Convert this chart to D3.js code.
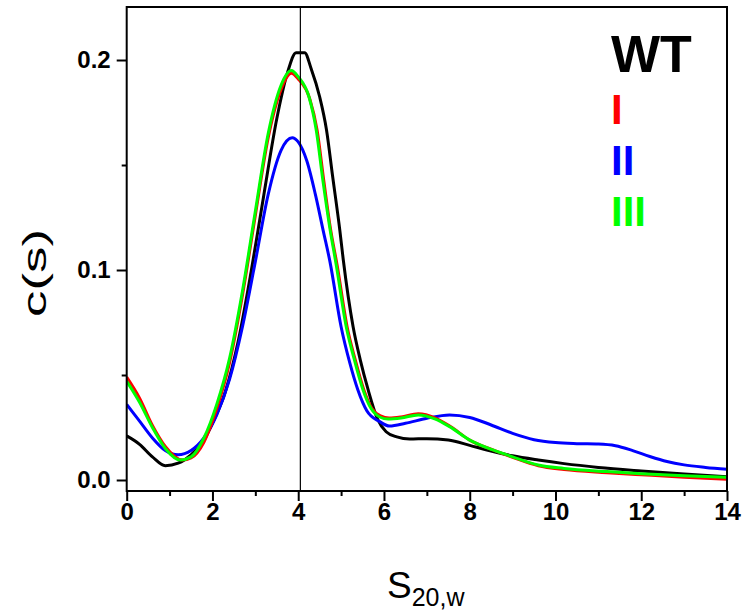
<!DOCTYPE html>
<html>
<head>
<meta charset="utf-8">
<script src="https://cdn.jsdelivr.net/npm/d3@7"></script>
<style>
  html, body { margin: 0; padding: 0; background: #fff; }
  svg { display: block; }
  text { font-family: "Liberation Sans", Arial, sans-serif; }
</style>
</head>
<body>
<svg id="chart" width="748" height="610"></svg>
<script>
// ---- data ----
const seriesNames = ["WT", "I", "II", "III"];
const seriesColors = ["#000000", "#ff0000", "#0000ff", "#00ff00"];

const sWT = [0, 0.3, 0.6, 0.9, 1.2, 1.5, 1.8, 2.0, 2.3, 2.6, 2.9, 3.2, 3.5, 3.75, 3.95, 4.15, 4.3, 4.5, 4.66, 4.8, 4.97, 5.05, 5.28, 5.45, 5.63, 5.85, 6.05, 6.3, 6.6, 7.0, 7.5, 8.0, 8.4, 9.0, 9.6, 10.2, 11.0, 12.0, 13.0, 14.0];
const cWT = [0.021, 0.017, 0.011, 0.0068, 0.008, 0.012, 0.019, 0.027, 0.042, 0.066, 0.099, 0.136, 0.172, 0.194, 0.2035, 0.2035, 0.196, 0.1825, 0.1667, 0.145, 0.119, 0.105, 0.073, 0.057, 0.043, 0.029, 0.023, 0.0205, 0.0195, 0.0197, 0.019, 0.0165, 0.0143, 0.0115, 0.0095, 0.0078, 0.006, 0.0043, 0.0028, 0.0016];

const sI = [0, 0.3, 0.6, 0.9, 1.3, 1.5, 1.8, 2.1, 2.4, 2.7, 3.0, 3.3, 3.6, 3.84, 4.0, 4.27, 4.44, 4.6, 4.75, 4.91, 5.14, 5.32, 5.53, 5.72, 5.92, 6.12, 6.4, 6.8, 7.2, 7.55, 8.0, 8.54, 9.0, 9.6, 10.2, 11.2, 12.0, 13.0, 14.0];
const cI = [0.049, 0.039, 0.026, 0.016, 0.0095, 0.0105, 0.018, 0.034, 0.056, 0.088, 0.126, 0.163, 0.186, 0.1937, 0.191, 0.1815, 0.1667, 0.142, 0.12, 0.102, 0.073, 0.058, 0.043, 0.034, 0.0305, 0.0295, 0.030, 0.0315, 0.0295, 0.0255, 0.019, 0.0143, 0.0108, 0.0068, 0.005, 0.0035, 0.0025, 0.0013, 0.0004];

const sII = [0, 0.3, 0.6, 0.9, 1.2, 1.5, 1.8, 2.1, 2.4, 2.7, 3.0, 3.3, 3.6, 3.86, 4.0, 4.2, 4.4, 4.58, 4.74, 5.0, 5.2, 5.39, 5.6, 5.9, 6.13, 6.5, 7.0, 7.53, 8.0, 8.5, 9.0, 9.5, 10.0, 10.5, 11.0, 11.4, 11.8, 12.2, 12.6, 13.0, 13.5, 14.0];
const cII = [0.036, 0.028, 0.020, 0.014, 0.012, 0.014, 0.020, 0.031, 0.048, 0.073, 0.104, 0.136, 0.157, 0.163, 0.161, 0.152, 0.136, 0.119, 0.104, 0.073, 0.056, 0.043, 0.033, 0.0278, 0.0257, 0.027, 0.0294, 0.031, 0.0298, 0.0262, 0.0222, 0.0192, 0.0178, 0.0173, 0.0171, 0.0163, 0.0140, 0.0112, 0.0088, 0.0072, 0.0060, 0.0051];

const sIII = [0, 0.3, 0.6, 0.9, 1.25, 1.5, 1.8, 2.1, 2.4, 2.7, 3.0, 3.3, 3.6, 3.84, 4.0, 4.25, 4.42, 4.58, 4.73, 4.89, 5.12, 5.3, 5.51, 5.7, 5.9, 6.1, 6.4, 6.8, 7.2, 7.53, 8.0, 8.54, 9.0, 9.6, 10.2, 11.2, 12.0, 13.0, 14.0];
const cIII = [0.047, 0.037, 0.025, 0.015, 0.0095, 0.011, 0.02, 0.036, 0.058, 0.09, 0.128, 0.165, 0.188, 0.195, 0.192, 0.1825, 0.1667, 0.142, 0.121, 0.102, 0.073, 0.058, 0.043, 0.034, 0.030, 0.029, 0.0295, 0.031, 0.029, 0.0254, 0.019, 0.0143, 0.011, 0.0071, 0.0055, 0.004, 0.003, 0.002, 0.0013];

const xTickValues = [0, 2, 4, 6, 8, 10, 12, 14];
const xMinorTicks = [1, 3, 5, 7, 9, 11, 13];
const yTickValues = [0.0, 0.1, 0.2];
const yMinorTicks = [0.05, 0.15];
const markerS = 4.05;

// ---- layout ----
const svg = d3.select("#chart");
const mLeft = 126.7, mRight = 727, mTop = 7, mBottom = 491;

const x = d3.scaleLinear().domain([0, 14]).range([mLeft, mRight]);
const y = d3.scaleLinear().domain([-0.00524, 0.22524]).range([mBottom, mTop]);

// curves
const seriesX = [sWT, sI, sII, sIII];
const seriesY = [cWT, cI, cII, cIII];
const line = d3.line().x(d => x(d[0])).y(d => y(d[1])).curve(d3.curveMonotoneX);

const g = svg.append("g");
g.append("defs").append("clipPath").attr("id", "clip")
  .append("rect").attr("x", mLeft).attr("y", mTop).attr("width", mRight - mLeft).attr("height", mBottom - mTop);

const drawOrder = [0, 2, 1, 3];
drawOrder.forEach(i => {
  const pts = seriesX[i].map((s, k) => [s, seriesY[i][k]]);
  g.append("path")
    .attr("d", line(pts))
    .attr("fill", "none")
    .attr("stroke", seriesColors[i])
    .attr("stroke-width", 3)
    .attr("stroke-linejoin", "round")
    .attr("clip-path", "url(#clip)");
});

// vertical marker line
g.append("line")
  .attr("x1", x(markerS)).attr("x2", x(markerS))
  .attr("y1", mTop).attr("y2", mBottom)
  .attr("stroke", "#000").attr("stroke-width", 1.2);

// frame
g.append("rect")
  .attr("x", mLeft).attr("y", mTop).attr("width", mRight - mLeft).attr("height", mBottom - mTop)
  .attr("fill", "none").attr("stroke", "#000").attr("stroke-width", 2);

// axes
const xAxis = d3.axisBottom(x).tickValues(xTickValues).tickFormat(d3.format("d")).tickSize(10).tickPadding(2);
const xa = svg.append("g").attr("transform", `translate(0,${mBottom})`).call(xAxis);
const xm = svg.append("g").attr("transform", `translate(0,${mBottom})`)
  .call(d3.axisBottom(x).tickValues(xMinorTicks).tickSize(5).tickFormat(""));

const yAxis = d3.axisLeft(y).tickValues(yTickValues).tickFormat(d3.format(".1f")).tickSize(10).tickPadding(6);
const ya = svg.append("g").attr("transform", `translate(${mLeft},0)`).call(yAxis);
const ym = svg.append("g").attr("transform", `translate(${mLeft},0)`)
  .call(d3.axisLeft(y).tickValues(yMinorTicks).tickSize(5).tickFormat(""));

[xa, xm, ya, ym].forEach(a => {
  a.select(".domain").remove();
  a.selectAll(".tick line").attr("stroke", "#000").attr("stroke-width", 2);
});
[xa, ya].forEach(a => {
  a.selectAll(".tick text")
    .attr("fill", "#000")
    .style("font-family", "'Liberation Sans', Arial, sans-serif")
    .style("font-weight", "bold")
    .style("font-size", "24px");
});

// axis titles
svg.append("text")
  .attr("transform", "translate(46,273) rotate(-90)")
  .attr("text-anchor", "middle")
  .style("font-size", "34px")
  .attr("textLength", 88)
  .attr("lengthAdjust", "spacingAndGlyphs")
  .text("c(s)");

const xt = svg.append("text")
  .attr("x", 387).attr("y", 598)
  .style("font-size", "37px");
xt.append("tspan").text("S");
xt.append("tspan").attr("dy", 8).style("font-size", "25px").text("20,w");

// legend
const legendY = [72, 124, 175, 226];
const legendSizes = [52, 42, 42, 42];
seriesNames.forEach((name, i) => {
  svg.append("text")
    .attr("x", 611).attr("y", legendY[i])
    .attr("fill", seriesColors[i])
    .style("font-weight", "bold")
    .style("font-size", legendSizes[i] + "px")
    .text(name);
});
</script>
</body>
</html>
